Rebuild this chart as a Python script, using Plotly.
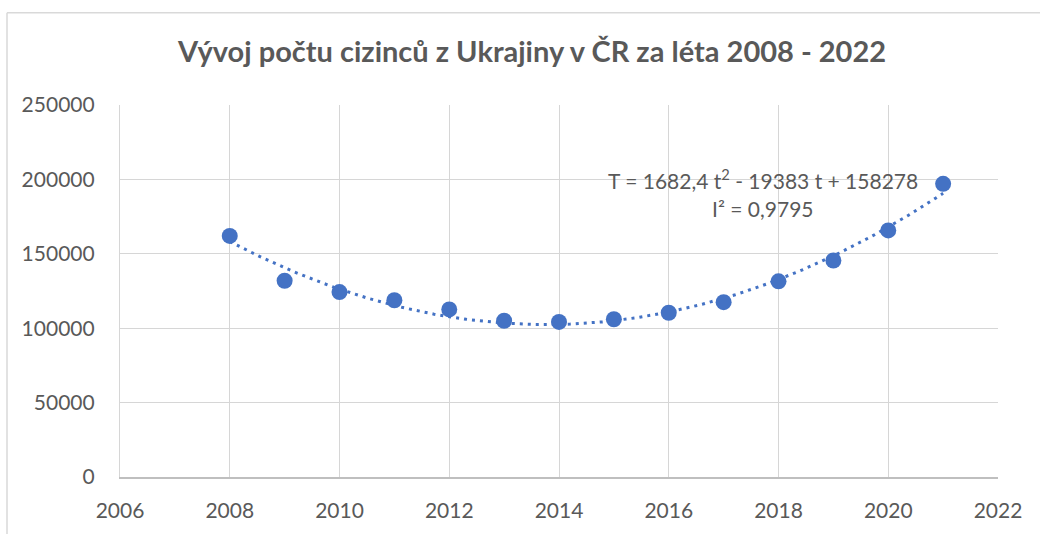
import plotly.graph_objects as go

# Data
years = [2008, 2009, 2010, 2011, 2012, 2013, 2014, 2015, 2016, 2017, 2018, 2019, 2020, 2021]
counts = [162000, 131900, 124300, 118800, 112600, 105000, 104200, 106000,
          110400, 117500, 131500, 145500, 165700, 197000]
# Trendline coefficients as shown on the chart (t = year - 2008)
trend_coefs = [1682.4, -19383, 158278]
trend_label = ["T = 1682,4 t<sup>2</sup> - 19383 t + 158278", "I² = 0,9795"]
x_ticks = [2006, 2008, 2010, 2012, 2014, 2016, 2018, 2020, 2022]
y_ticks = [0, 50000, 100000, 150000, 200000, 250000]
title_text = "Vývoj počtu cizinců z Ukrajiny v ČR za léta 2008 - 2022"

BLUE = "#4472C4"
GRID = "#D6D6D6"
TXT = "#595959"
FONT = "Lato, 'Open Sans', sans-serif"

# Trendline curve
n = 200
tx = [years[0] + (years[-1] - years[0]) * i / (n - 1) for i in range(n)]
ty = [trend_coefs[0] * (x - years[0]) ** 2 + trend_coefs[1] * (x - years[0]) + trend_coefs[2] for x in tx]

fig = go.Figure()
fig.add_trace(go.Scatter(x=tx, y=ty, mode="lines",
                         line=dict(color=BLUE, width=3, dash="3px,5px"),
                         hoverinfo="skip", showlegend=False))
fig.add_trace(go.Scatter(x=years, y=counts, mode="markers",
                         marker=dict(color=BLUE, size=16),
                         showlegend=False))

fig.add_annotation(x=2017.72, y=(480 - 179.5) / 75 * 50000, xref="x", yref="y",
                   text=trend_label[0], showarrow=False,
                   font=dict(family=FONT, size=21, color=TXT), xanchor="center", yanchor="middle")
fig.add_annotation(x=2017.72, y=(480 - 209.5) / 75 * 50000, xref="x", yref="y",
                   text=trend_label[1], showarrow=False,
                   font=dict(family=FONT, size=21, color=TXT), xanchor="center", yanchor="middle")

# Outer chart frame (top and left edges visible)
fig.add_shape(type="line", xref="paper", yref="paper",
              x0=(7 - 120) / 878, x1=(1045 - 120) / 878,
              y0=(480 - 12) / 375, y1=(480 - 12) / 375,
              line=dict(color="#D9D9D9", width=1.5))
fig.add_shape(type="line", xref="paper", yref="paper",
              x0=(7 - 120) / 878, x1=(7 - 120) / 878,
              y0=(480 - 12) / 375, y1=(480 - 540) / 375,
              line=dict(color="#D9D9D9", width=1.5))

fig.update_layout(
    width=1040, height=534,
    margin=dict(l=120, r=42, t=105, b=54),
    paper_bgcolor="white", plot_bgcolor="white",
    title=dict(text="<b>" + title_text + "</b>", x=532 / 1040, xanchor="center",
               y=1 - 52 / 534, yanchor="middle",
               font=dict(family=FONT, size=29, color=TXT)),
    font=dict(family=FONT, size=21, color=TXT),
)
fig.update_xaxes(range=[2006, 2022], tickvals=x_ticks, ticktext=[str(v) for v in x_ticks],
                 showgrid=True, gridcolor=GRID, gridwidth=1.2,
                 showline=True, linecolor="#BFBFBF", linewidth=1.5,
                 zeroline=False, ticks="", ticklabelstandoff=14,
                 tickfont=dict(family=FONT, size=21, color=TXT), mirror=False)
fig.update_yaxes(range=[0, 250000], tickvals=y_ticks, ticktext=[str(v) for v in y_ticks],
                 showgrid=True, gridcolor=GRID, gridwidth=1.2,
                 showline=True, linecolor=GRID, linewidth=1.2,
                 zeroline=False, ticks="", ticklabelstandoff=20,
                 tickfont=dict(family=FONT, size=21, color=TXT))

fig.write_html("out.html", config={"displayModeBar": False},
               post_script="document.body.style.margin='0';document.body.style.overflow='hidden';")
